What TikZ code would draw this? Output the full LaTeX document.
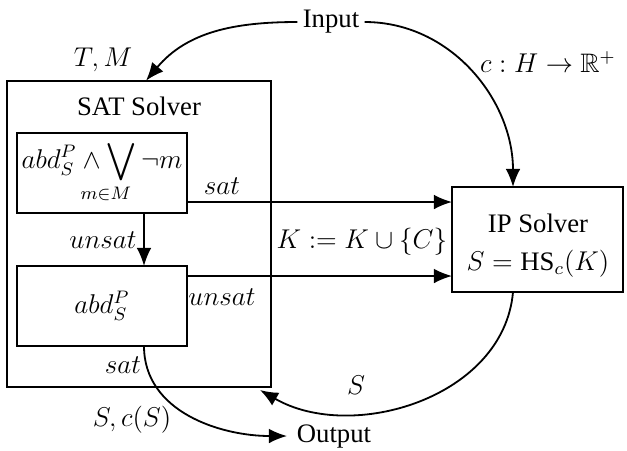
\documentclass[tikz,border=0pt]{standalone}
\usepackage{fontspec}
\setmainfont{Liberation Serif}
\usepackage{amsmath,amssymb,mathtools}
\usetikzlibrary{arrows.meta}
\begin{document}
\begin{tikzpicture}[x=0.01554cm,y=-0.01554cm,
  every node/.append style={font=\fontsize{11.8pt}{14pt}\selectfont},
  box/.style={draw,line width=0.8pt,inner sep=0pt},
  conn/.style={line width=0.8pt,-{Latex[length=8pt,width=6.5pt]}},
  lbl/.style={inner sep=0pt}]
\useasboundingbox (0,0) rectangle (627,450);
\node[box,minimum width={264*0.4418pt},minimum height={306*0.4418pt}] (sat) at (139,234) {};
\node[lbl] (sattitle) at (139,106) {SAT Solver};
\node[box,minimum width={170*0.4418pt},minimum height={80*0.4418pt}] (b1) at (102,173) {};
\node[lbl] (b1t) at (102,172) {$\displaystyle abd_S^P \wedge \bigvee\limits_{\mathclap{m\in M\hspace{14pt}}} \neg m$};
\node[box,minimum width={170*0.4418pt},minimum height={80*0.4418pt}] (b2) at (102,306) {$abd_S^P$};
\node[box,minimum width={171*0.4418pt},minimum height={105*0.4418pt}] (ip) at (537.5,239.5) {};
\node[lbl] (ipt1) at (538,223) {IP Solver};
\node[lbl] (ipt2) at (538,264) {$S = \mathrm{HS}_c(K)$};
\node[lbl] (input) at (331,22) {Input};
\node[lbl] (output) at (334,436) {Output};
\coordinate (sattop) at (146,80.7);
\coordinate (iptop) at (513,187);
\coordinate (ipbot) at (513,292);
\coordinate (b1bot) at (144,213);
\coordinate (b2top) at (144,266);
\coordinate (b2bot) at (144,346);
\coordinate (b1r) at (187,202);
\coordinate (ipl1) at (452,202);
\coordinate (b2r) at (187,276);
\coordinate (ipl2) at (452,276);
\coordinate (satcorner) at (260,390);
\coordinate (outtip) at (287,436);
\draw[conn] (input.west) ++(-5,0) to[out=180,in=50] (sattop);
\draw[conn] (input.east) ++(5,0) to[out=0,in=90] (iptop);
\draw[conn] (b1r) -- (ipl1);
\draw[conn] (b2r) -- (ipl2);
\draw[conn] (b1bot) -- (b2top);
\draw[conn] (ipbot) to[out=-95,in=-30] (satcorner);
\draw[conn] (b2bot) to[out=-90,in=180] (outtip);
\node[lbl] (tm) at (103,60) {$T,M$};
\node[lbl] (cl) at (548,62) {$c : H \rightarrow \mathbb{R}^+$};
\node[lbl] (sat1) at (222,186) {$sat$};
\node[lbl] (uns1) at (103,240) {$unsat$};
\node[lbl] (uns2) at (222,297) {$unsat$};
\node[lbl] (kl) at (362,242) {$K := K \cup \{C\}$};
\node[lbl] (sat2) at (123,365) {$sat$};
\node[lbl] (scs) at (132,420) {$S, c(S)$};
\node[lbl] (sl) at (356,385) {$S$};
\end{tikzpicture}
\end{document}
